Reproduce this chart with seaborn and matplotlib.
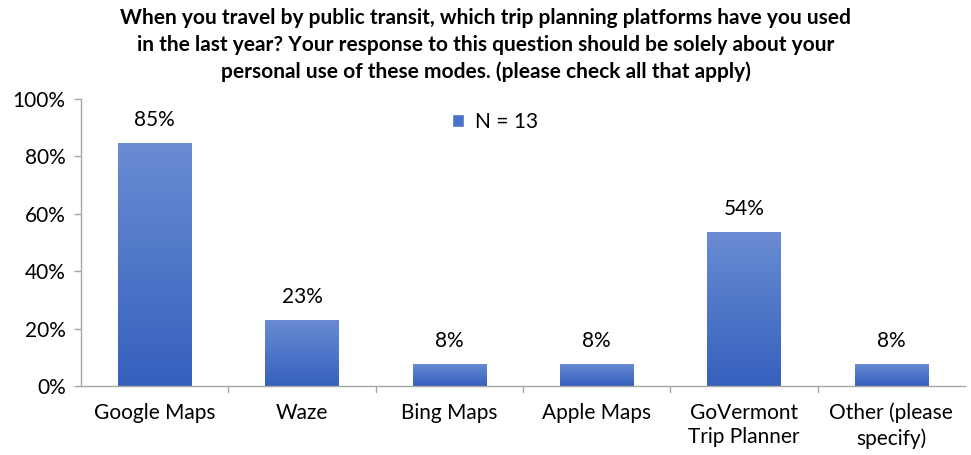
import numpy as np
import pandas as pd
import matplotlib.pyplot as plt
import seaborn as sns
from matplotlib.patches import Patch

# Chart data
platforms = ['Google Maps', 'Waze', 'Bing Maps', 'Apple Maps',
             'GoVermont\nTrip Planner', 'Other (please\nspecify)']
shares = [84.6, 23.1, 7.7, 7.7, 53.8, 7.7]
share_labels = ['85%', '23%', '8%', '8%', '54%', '8%']
y_ticks = [0, 20, 40, 60, 80, 100]
y_tick_labels = ['0%', '20%', '40%', '60%', '80%', '100%']

title = ('When you travel by public transit, which trip planning platforms have you used\n'
         'in the last year? Your response to this question should be solely about your\n'
         'personal use of these modes. (please check all that apply)')


def draw_chart(df):
    sns.set_theme(style='white')
    plt.rcParams['font.family'] = ['Lato', 'DejaVu Sans']
    plt.rcParams['text.color'] = 'black'
    plt.rcParams['xtick.color'] = 'black'
    plt.rcParams['ytick.color'] = 'black'

    fig = plt.figure(figsize=(9.71, 4.55), dpi=100)
    ax = fig.add_axes([81 / 971, 1 - 386 / 455, (965 - 81) / 971, (386 - 99) / 455])

    sns.barplot(data=df, x='Platform', y='Share', color='#4a72c8', width=0.5,
                ax=ax, saturation=1)

    # gradient fill: lighter at top, darker at bottom
    cmap = plt.matplotlib.colors.LinearSegmentedColormap.from_list(
        'bar', ['#3560bd', '#6a8cd3'])
    grad = np.linspace(0, 1, 256).reshape(-1, 1)
    for patch in ax.patches:
        x0, y0 = patch.get_x(), patch.get_y()
        w, h = patch.get_width(), patch.get_height()
        im = ax.imshow(grad, extent=[x0, x0 + w, y0, y0 + h], origin='lower',
                       cmap=cmap, aspect='auto', zorder=patch.get_zorder())
        im.set_clip_path(patch)
        patch.set_facecolor('none')
        patch.set_edgecolor('none')

    for i, (v, lab) in enumerate(zip(df['Share'], share_labels)):
        ax.text(i, v + 4.5, lab, ha='center', va='bottom', fontsize=15)

    ax.set_xlim(-0.5, len(df) - 0.5)
    ax.set_ylim(0, 100)
    ax.set_yticks(y_ticks)
    ax.set_yticklabels(y_tick_labels, fontsize=15)
    ax.set_xticks(range(len(df)))
    ax.set_xticklabels(df['Platform'], fontsize=15, linespacing=1.3)
    ax.tick_params(axis='x', length=0, pad=12)
    ax.tick_params(axis='y', length=5, width=1, color='#a6a6a6', left=True, pad=6)

    # category separator ticks on x axis
    for b in np.arange(0.5, len(df) - 1, 1.0):
        ax.plot([b, b], [0, -2.2], color='#a6a6a6', lw=1, clip_on=False)

    for s in ['top', 'right']:
        ax.spines[s].set_visible(False)
    for s in ['left', 'bottom']:
        ax.spines[s].set_color('#a6a6a6')
        ax.spines[s].set_linewidth(1)
    ax.set_xlabel('')
    ax.set_ylabel('')

    ax.legend(handles=[Patch(facecolor='#4a72c8', label='N = 13')],
              loc='center', bbox_to_anchor=(0.468, 0.92), frameon=False,
              fontsize=15, handlelength=0.6, handleheight=0.6, handletextpad=0.5)

    fig.text(0.5, 0.982, title, ha='center', va='top', fontsize=15,
             fontweight='bold', linespacing=1.42)

    fig.savefig('out.png', dpi=100)


def main():
    df = pd.DataFrame({'Platform': platforms, 'Share': shares})
    draw_chart(df)


if __name__ == "__main__":
    main()
